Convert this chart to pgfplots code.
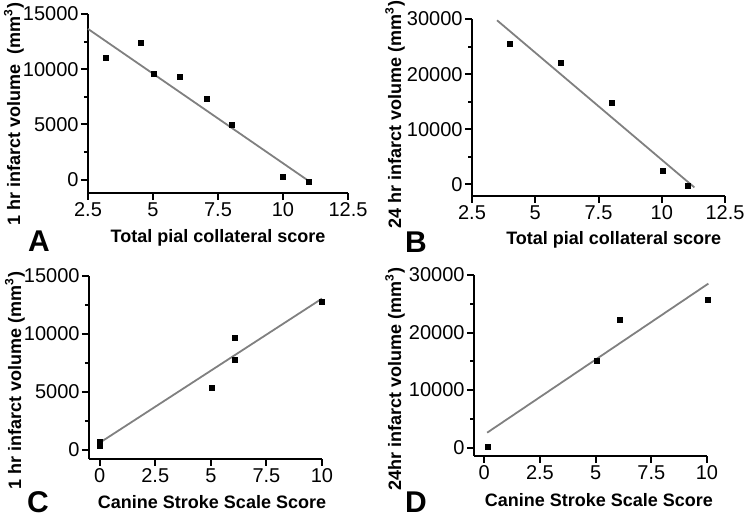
\documentclass[border=0pt]{standalone}
\usepackage{pgfplots}
\pgfplotsset{compat=1.18}
\usepackage{fontspec}
\setmainfont{Liberation Sans}
\definecolor{fitgray}{RGB}{128,128,128}
\begin{document}
\begin{tikzpicture}
\pgfplotsset{
  panel/.style={
    scale only axis, axis lines=left, axis line style={-, line width=1.1pt},
    tick align=outside, major tick length=3.5pt, minor tick length=2pt,
    every tick/.style={line width=1pt, black},
    tick label style={font=\fontsize{10}{11}\selectfont, inner sep=1pt},
    /pgf/number format/assume math mode=true,
    /pgf/number format/set thousands separator={},
    scaled y ticks=false, scaled x ticks=false,
    minor y tick num=1,
    label style={font=\bfseries\fontsize{9}{10}\selectfont},
    clip=false,
  },
  fit/.style={fitgray, line width=0.9pt, no marks},
  pts/.style={only marks, mark=square*, mark size=1.25pt, black},
}
\path[use as bounding box] (0,0) rectangle (375pt,259pt);

% A
\begin{axis}[panel, at={(44pt,162.5pt)}, anchor=south west,
  width=130pt, height=89.5pt,
  xmin=2.5, xmax=12.5, ymin=-1200, ymax=15000,
  xtick={2.5,5,7.5,10,12.5}, ytick={0,5000,10000,15000},
  xlabel={Total pial collateral score},
  ylabel={1 hr infarct volume\ \ (mm\textsuperscript{3})},
  xlabel style={at={(axis description cs:0.5,-0.25)}, anchor=center},
  ylabel style={at={(axis description cs:-0.285,0.44)}, anchor=center},
]
\addplot[fit] coordinates {(2.5,13650) (11.05,-210)};
\addplot[pts] coordinates {(3.2,11000) (4.55,12350) (5.02,9590) (6.05,9290) (7.09,7360) (8.02,4990) (10,300) (11,-180)};
\end{axis}

% B
\begin{axis}[panel, at={(236pt,161pt)}, anchor=south west,
  width=126.5pt, height=88.5pt,
  xmin=2.5, xmax=12.5, ymin=-2100, ymax=30000,
  xtick={2.5,5,7.5,10,12.5}, ytick={0,10000,20000,30000},
  xlabel={Total pial collateral score},
  ylabel={24 hr infarct volume (mm\textsuperscript{3})},
  xlabel style={at={(axis description cs:0.56,-0.25)}, anchor=center},
  ylabel style={at={(axis description cs:-0.304,0.46)}, anchor=center},
]
\addplot[fit] coordinates {(3.49,29760) (11.29,-545)};
\addplot[pts] coordinates {(4.0,25450) (6.03,22000) (8.03,14850) (10.03,2480) (11.05,-300)};
\end{axis}

% C
\begin{axis}[panel, at={(44.5pt,29.5pt)}, anchor=south west,
  width=116.5pt, height=91.5pt,
  xmin=-0.48, xmax=10, ymin=-800, ymax=15000,
  xtick={0,2.5,5,7.5,10}, ytick={0,5000,10000,15000},
  xlabel={Canine Stroke Scale Score},
  ylabel={1 hr infarct volume (mm\textsuperscript{3})},
  xlabel style={at={(axis description cs:0.528,-0.235)}, anchor=center},
  ylabel style={at={(axis description cs:-0.318,0.43)}, anchor=center},
]
\addplot[fit] coordinates {(0,600) (10,13050)};
\addplot[pts] coordinates {(0,690) (0,290) (5.05,5370) (6.07,9655) (6.07,7730) (10,12760)};
\end{axis}

% D
\begin{axis}[panel, at={(237pt,31pt)}, anchor=south west,
  width=116.5pt, height=90.5pt,
  xmin=-0.46, xmax=10, ymin=-1450, ymax=30000,
  xtick={0,2.5,5,7.5,10}, ytick={0,10000,20000,30000},
  xlabel={Canine Stroke Scale Score},
  ylabel={24hr infarct volume (mm\textsuperscript{3})},
  xlabel style={at={(axis description cs:0.536,-0.243)}, anchor=center},
  ylabel style={at={(axis description cs:-0.339,0.425)}, anchor=center},
]
\addplot[fit] coordinates {(0.13,2600) (10.06,28500)};
\addplot[pts] coordinates {(0.18,120) (5.04,15000) (6.09,22160) (10.03,25730)};
\end{axis}

\node[font=\bfseries\fontsize{15}{16}\selectfont, inner sep=0] at (19.5pt,138.5pt) {A};
\node[font=\bfseries\fontsize{15}{16}\selectfont, inner sep=0] at (208pt,138pt) {B};
\node[font=\bfseries\fontsize{15}{16}\selectfont, inner sep=0] at (19pt,8pt) {C};
\node[font=\bfseries\fontsize{15}{16}\selectfont, inner sep=0] at (208pt,8pt) {D};
\end{tikzpicture}
\end{document}
